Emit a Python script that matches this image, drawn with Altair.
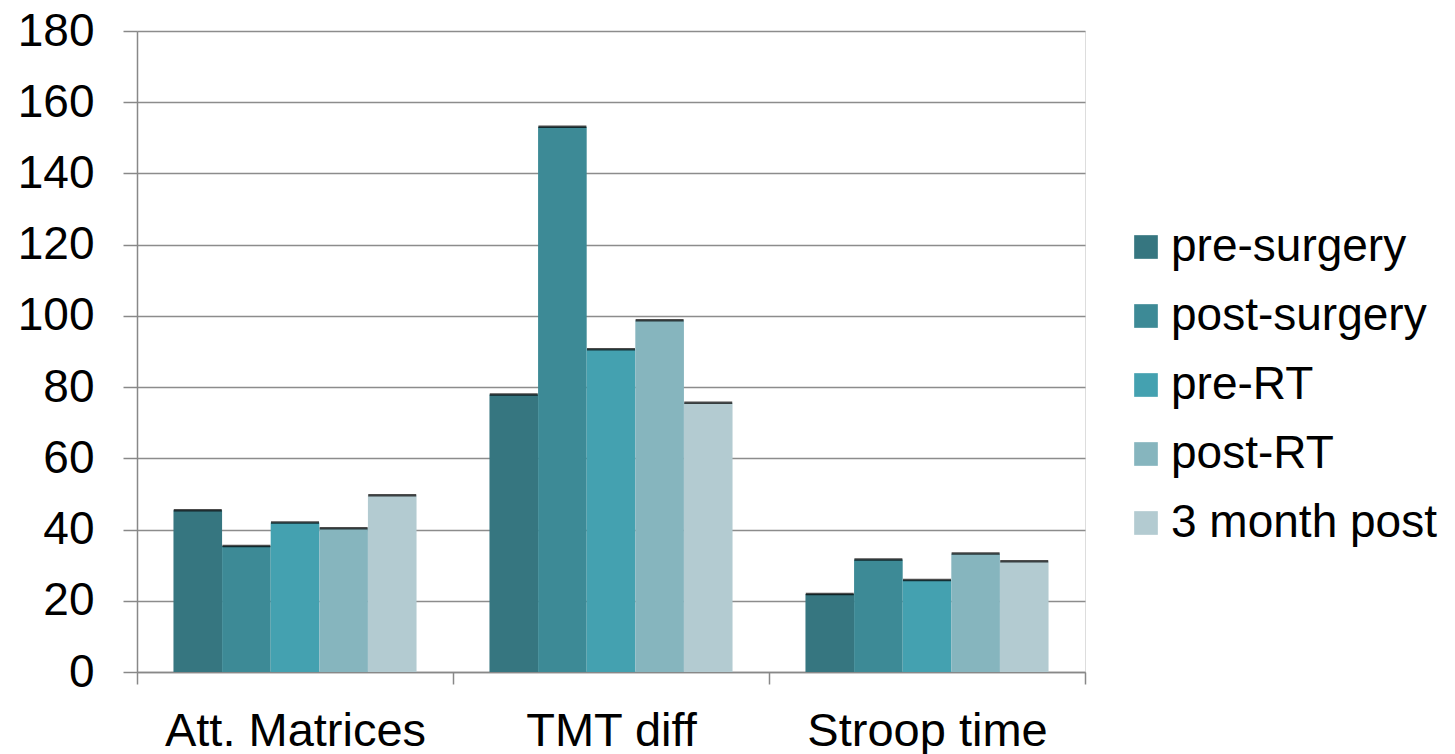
import altair as alt
import pandas as pd

categories = ["Att. Matrices", "TMT diff", "Stroop time"]
series = ["\u2002pre-surgery", "post-surgery", "pre-RT", "post-RT", "3 month post"]
colors = ["#367680", "#3d8a96", "#44a1b0", "#86b5be", "#b3cbd1"]

pre_surgery = [45.4, 77.9, 21.9]
post_surgery = [35.4, 153.1, 31.6]
pre_rt = [42.0, 90.6, 25.8]
post_rt = [40.4, 98.8, 33.3]
month3_post = [49.6, 75.6, 31.1]

values = [pre_surgery, post_surgery, pre_rt, post_rt, month3_post]
rows = []
for s, vals in zip(series, values):
    for c, v in zip(categories, vals):
        rows.append({"category": c, "series": s, "value": v})
df = pd.DataFrame(rows)

FONT = "Liberation Sans"

x = alt.X("category:N", sort=categories, title=None,
          scale=alt.Scale(paddingInner=0, paddingOuter=0),
          axis=alt.Axis(labelAngle=0, labelFontSize=47, labelFont=FONT, labelColor="black",
                        tickBand="extent", tickSize=12, tickColor="#888888", tickWidth=1.5,
                        domainColor="#888888", domainWidth=1.5, labelPadding=24, grid=False,
                        labelLimit=1000))
y = alt.Y("value:Q", title=None,
          scale=alt.Scale(domain=[0, 180], nice=False),
          axis=alt.Axis(values=list(range(0, 181, 20)), labelFontSize=46, labelFont=FONT,
                        labelColor="black", tickSize=14, tickColor="#888888", tickWidth=1.5,
                        domainColor="#888888", domainWidth=1.5, labelPadding=29,
                        gridColor="#8c8c8c", gridWidth=1.5))
xo = alt.XOffset("series:N", sort=series,
                 scale=alt.Scale(paddingInner=0, paddingOuter=0.75))

bars = alt.Chart(df).mark_bar().encode(
    x=x, y=y, xOffset=xo,
    color=alt.Color("series:N", sort=series,
                    scale=alt.Scale(domain=series, range=colors),
                    legend=alt.Legend(title=None, orient="none", legendX=986, legendY=193,
                                      symbolType="square", symbolSize=560, symbolStrokeWidth=0,
                                      labelFontSize=46, labelFont=FONT, labelColor="black",
                                      labelOffset=2, rowPadding=23, labelLimit=600)),
)

tops = alt.Chart(df).mark_tick(color="black", thickness=2.5, size=48, orient="horizontal").encode(
    x=alt.X("category:N", sort=categories), y="value:Q", xOffset=xo,
)

chart = alt.layer(bars, tops).properties(
    width=948, height=641,
    autosize=alt.AutoSizeParams(type="none"),
    padding={"left": 137, "top": 31, "right": 370, "bottom": 82},
).configure_view(stroke=None).configure(background="white")

chart.save("out.html", embed_options={"renderer": "svg", "actions": False})
